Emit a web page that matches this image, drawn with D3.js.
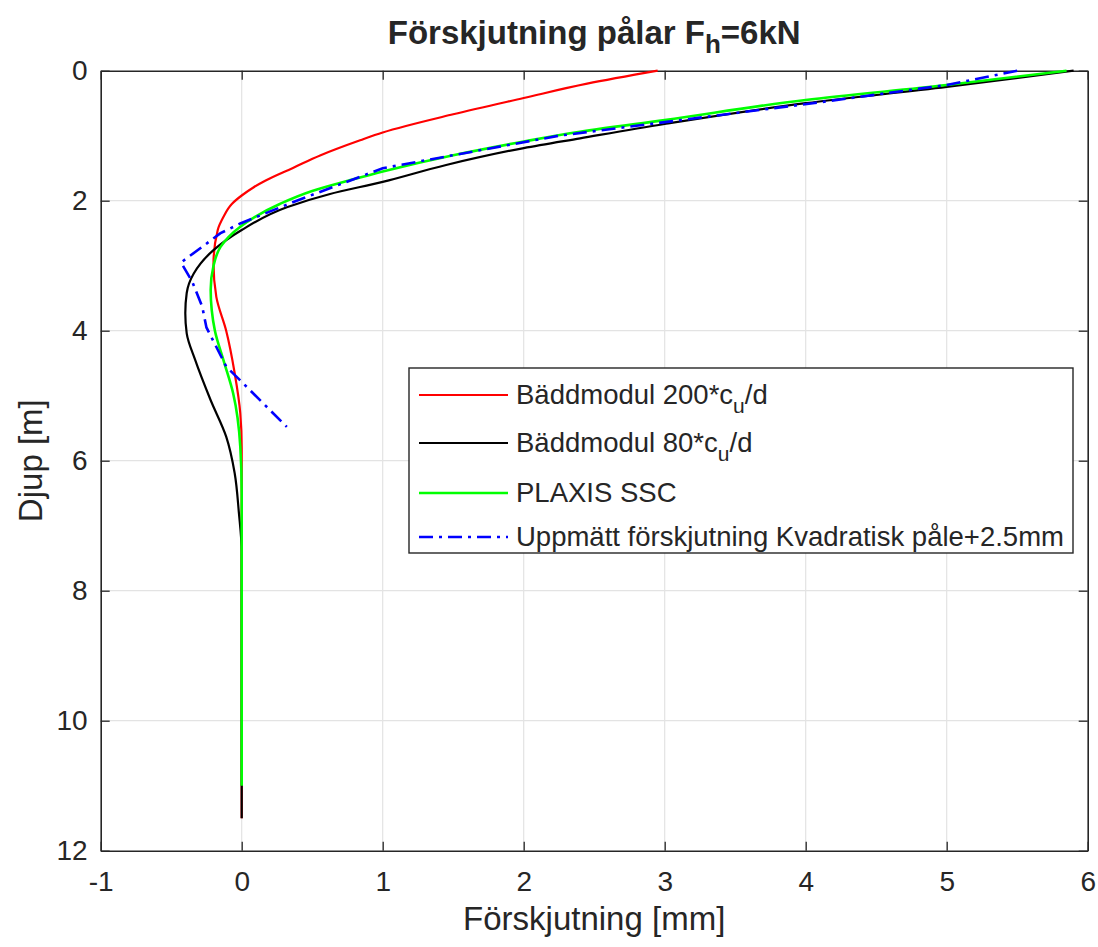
<!DOCTYPE html>
<html><head><meta charset="utf-8">
<script src="https://cdn.jsdelivr.net/npm/d3@7"></script>
<style>
html,body{margin:0;padding:0;background:#fff;}
text{font-family:"Liberation Sans",Arial,Helvetica,sans-serif;fill:#262626;}
</style></head>
<body><svg id="chart" width="1098" height="947"></svg>
<script>
// ---- data ----
const xTicks = [-1,0,1,2,3,4,5,6];
const yTicks = [0,2,4,6,8,10,12];

const redDepth = [0,0.2,0.42,0.67,0.95,1.07,1.3,1.5,1.69,1.8,1.92,2.05,2.25,2.45,2.97,3.48,4.0,4.65,5.27,5.8,7,9,11.5];
const redX     = [2.95,2.45,2.0,1.5,1.0,0.84,0.56,0.36,0.17,0.08,0.0,-0.07,-0.13,-0.17,-0.2,-0.18,-0.11,-0.05,-0.01,0,0,0,0];

const blackDepth = [0,0.25,0.5,0.82,1.04,1.19,1.45,1.71,1.9,2.1,2.45,2.76,3.12,3.42,3.73,4.04,4.45,5.07,5.63,6.19,6.8,7.4,9,11.5];
const blackX     = [5.9,5.0,4.0,3.0,2.4,2.0,1.45,1.0,0.62,0.32,0.0,-0.2,-0.34,-0.39,-0.4,-0.39,-0.33,-0.22,-0.11,-0.05,-0.02,0,0,0];

const greenDepth = [0,0.22,0.45,0.76,0.94,1.09,1.3,1.55,1.69,1.85,2.05,2.4,2.71,3.0,3.37,4.0,4.45,4.97,5.78,6.5,8,11];
const greenX     = [5.85,5.0,4.0,3.0,2.4,2.0,1.5,1.0,0.76,0.5,0.27,-0.01,-0.15,-0.2,-0.22,-0.19,-0.13,-0.06,-0.01,0,0,0];

const blueDepth = [0,0.22,0.5,1.0,1.5,2.0,2.35,2.5,2.95,3.25,3.63,3.95,4.55,5.48];
const blueX     = [5.5,5.0,4.05,2.25,1.0,0.39,-0.01,-0.15,-0.43,-0.35,-0.28,-0.25,-0.11,0.32];

const seriesNames = ["Bäddmodul 200*c_u/d","Bäddmodul 80*c_u/d","PLAXIS SSC","Uppmätt förskjutning Kvadratisk påle+2.5mm"];

// ---- layout ----
const svg = d3.select("#chart");
const L = 100.7, R = 1087.7, T = 70.7, B = 850.7;
const x = d3.scaleLinear().domain([-1,6]).range([L,R]);
const y = d3.scaleLinear().domain([0,12]).range([T,B]);

// grid
const g = svg.append("g");
g.selectAll(".vg").data(xTicks.slice(1,-1)).enter().append("line")
  .attr("x1",d=>x(d)).attr("x2",d=>x(d)).attr("y1",T).attr("y2",B)
  .attr("stroke","#e3e3e3").attr("stroke-width",1.2);
g.selectAll(".hg").data(yTicks.slice(1,-1)).enter().append("line")
  .attr("y1",d=>y(d)).attr("y2",d=>y(d)).attr("x1",L).attr("x2",R)
  .attr("stroke","#e3e3e3").attr("stroke-width",1.2);

// axes (MATLAB style, ticks inward, box)
const tl = 9;
const fmt = d=>String(d);
const axB = svg.append("g").attr("transform",`translate(0,${B})`)
  .call(d3.axisBottom(x).tickValues(xTicks).tickSizeInner(-tl).tickSizeOuter(0).tickPadding(20).tickFormat(fmt));
const axT = svg.append("g").attr("transform",`translate(0,${T})`)
  .call(d3.axisTop(x).tickValues(xTicks).tickSizeInner(-tl).tickSizeOuter(0).tickFormat(""));
const axL = svg.append("g").attr("transform",`translate(${L},0)`)
  .call(d3.axisLeft(y).tickValues(yTicks).tickSizeInner(-tl).tickSizeOuter(0).tickPadding(13).tickFormat(fmt));
const axR = svg.append("g").attr("transform",`translate(${R},0)`)
  .call(d3.axisRight(y).tickValues(yTicks).tickSizeInner(-tl).tickSizeOuter(0).tickFormat(""));
[axB,axT,axL,axR].forEach(a=>{
  a.select(".domain").attr("stroke","#262626").attr("stroke-width",1.6);
  a.selectAll(".tick line").attr("stroke","#262626").attr("stroke-width",1.3);
  a.selectAll(".tick text").attr("fill","#262626").style("font-size","28px")
   .style("font-family",'"Liberation Sans",Arial,sans-serif');
});
axB.selectAll(".tick text").attr("dy","0.71em");

// lines
const mk = (xs,ds)=>xs.map((v,i)=>[v,ds[i]]);
const lineSmooth = d3.line().x(d=>x(d[0])).y(d=>y(d[1])).curve(d3.curveMonotoneY);
const lineLin = d3.line().x(d=>x(d[0])).y(d=>y(d[1]));
const plot = svg.append("g");
plot.append("path").datum(mk(redX,redDepth)).attr("d",lineSmooth)
  .attr("fill","none").attr("stroke","#ff0000").attr("stroke-width",2.2);
plot.append("path").datum(mk(blackX,blackDepth)).attr("d",lineSmooth)
  .attr("fill","none").attr("stroke","#000000").attr("stroke-width",2.2);
plot.append("path").datum(mk(greenX,greenDepth)).attr("d",lineSmooth)
  .attr("fill","none").attr("stroke","#00ff00").attr("stroke-width",2.6);
plot.append("path").datum(mk(blueX,blueDepth)).attr("d",lineLin)
  .attr("fill","none").attr("stroke","#0000ff").attr("stroke-width",2.6)
  .attr("stroke-dasharray","14,6,3,6");

// title
const title = svg.append("text").attr("x",(L+R)/2).attr("y",44).attr("text-anchor","middle")
  .style("font-size","33px").style("font-weight","bold").attr("fill","#000");
title.append("tspan").text("Förskjutning pålar F");
title.append("tspan").text("h").attr("dy",9).style("font-size","26px");
title.append("tspan").text("=6kN").attr("dy",-9);

// axis labels
svg.append("text").attr("x",(L+R)/2).attr("y",930).attr("text-anchor","middle")
  .style("font-size","33px").text("Förskjutning [mm]");
svg.append("text").attr("transform",`translate(42,${(T+B)/2}) rotate(-90)`).attr("text-anchor","middle")
  .style("font-size","33px").text("Djup [m]");

// legend
const lg = svg.append("g");
lg.append("rect").attr("x",409).attr("y",368).attr("width",664).attr("height",185)
  .attr("fill","#fff").attr("stroke","#262626").attr("stroke-width",1.4);
const legColors = ["#ff0000","#000000","#00ff00","#0000ff"];
const legY = [395,443,493,537];
seriesNames.forEach((name,i)=>{
  lg.append("line").attr("x1",419).attr("x2",508).attr("y1",legY[i]).attr("y2",legY[i])
    .attr("stroke",legColors[i]).attr("stroke-width",i>=2?2.6:2.2)
    .attr("stroke-dasharray",i===3?"14,6,3,6":null);
  const t = lg.append("text").attr("x",516).attr("y",legY[i]+9).style("font-size","27.5px").attr("fill","#000");
  const parts = name.split("_u");
  if(parts.length===2){
    t.append("tspan").text(parts[0]);
    t.append("tspan").text("u").attr("dy",9).style("font-size","21px");
    t.append("tspan").text(parts[1]).attr("dy",-9);
  } else t.text(name);
});
</script></body></html>
